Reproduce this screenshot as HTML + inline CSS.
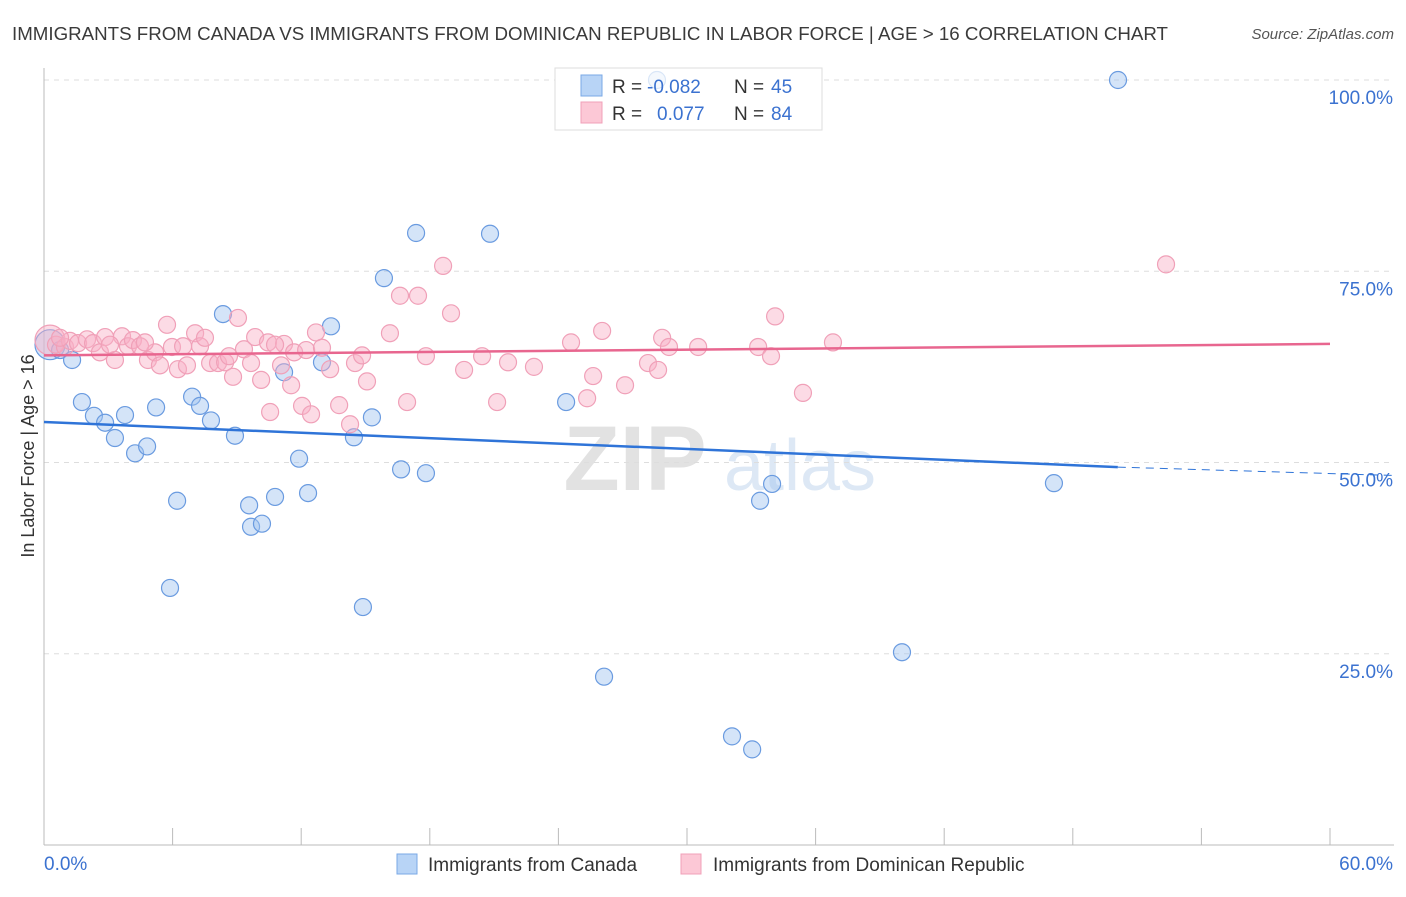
<!DOCTYPE html>
<html><head><meta charset="utf-8"><style>
body{margin:0;background:#fff;font-family:"Liberation Sans",sans-serif}
svg text{font-family:"Liberation Sans",sans-serif}
</style></head><body>
<svg id="chart" width="1406" height="892" viewBox="0 0 1406 892" xmlns="http://www.w3.org/2000/svg">
<text x="12" y="40" font-size="18.6" fill="#3a3a3a" textLength="1156" lengthAdjust="spacingAndGlyphs">IMMIGRANTS FROM CANADA VS IMMIGRANTS FROM DOMINICAN REPUBLIC IN LABOR FORCE | AGE &gt; 16 CORRELATION CHART</text>
<text x="1394" y="39" font-size="15" fill="#555" font-style="italic" text-anchor="end">Source: ZipAtlas.com</text>
<g>
<text x="635" y="490" font-size="92" font-family="Liberation Serif,serif" font-weight="bold" fill="#e2e2e2" text-anchor="middle">ZIP</text>
<text x="800" y="490" font-size="72" fill="#dde8f5" text-anchor="middle">atlas</text>
</g>
<g id="grid"></g>
<g id="axes"></g>
<g>
<rect x="555" y="68" width="267" height="62" fill="#fff" stroke="#ddd"/>
</g>
<g id="marks"></g>
<g id="trends"></g>
<g>
<rect x="555" y="68" width="267" height="62" fill="rgba(255,255,255,0.75)" stroke="#ddd"/>
<rect x="581" y="75" width="21" height="21" fill="#b8d4f6" stroke="#7aa8e6"/>
<rect x="581" y="102" width="21" height="21" fill="#fcc8d6" stroke="#f0a0b8"/>
<text x="612" y="93" font-size="19" fill="#333">R = </text><text x="647" y="93" font-size="19" fill="#3b72d0">-0.082</text>
<text x="734" y="93" font-size="19" fill="#333">N = </text><text x="771" y="93" font-size="19" fill="#3b72d0">45</text>
<text x="612" y="120" font-size="19" fill="#333">R = </text><text x="657" y="120" font-size="19" fill="#3b72d0">0.077</text>
<text x="734" y="120" font-size="19" fill="#333">N = </text><text x="771" y="120" font-size="19" fill="#3b72d0">84</text>
</g>
<g>
<rect x="397" y="854" width="20" height="20" fill="#b8d4f6" stroke="#7aa8e6"/>
<text x="428" y="871" font-size="19" fill="#333">Immigrants from Canada</text>
<rect x="681" y="854" width="20" height="20" fill="#fcc8d6" stroke="#f0a0b8"/>
<text x="713" y="871" font-size="19" fill="#333">Immigrants from Dominican Republic</text>
</g>
<text transform="translate(34,456) rotate(-90)" font-size="18" fill="#333" text-anchor="middle">In Labor Force | Age &gt; 16</text>
</svg>
<script>
const yTicks=[25,50,75,100];
const yTickLabels=["25.0%","50.0%","75.0%","100.0%"];
const xTicks=[0,6,12,18,24,30,36,42,48,54,60];
const xTickLabels=["0.0%","60.0%"];
const canadaX=[0.28,0.75,1.31,1.77,2.33,2.85,3.31,3.78,4.25,4.81,5.23,5.88,6.21,6.91,7.28,7.79,8.35,8.91,9.57,9.66,10.17,10.78,11.2,11.9,12.32,12.97,13.39,14.46,14.88,15.3,15.86,16.66,17.36,17.82,20.81,24.36,26.13,28.6,32.1,33.04,33.41,33.97,40.03,47.12,50.11];
const canadaY=[65.4,64.7,63.4,57.9,56.1,55.2,53.2,56.2,51.2,52.1,57.2,33.6,45.0,58.6,57.4,55.5,69.4,53.5,44.4,41.6,42.0,45.5,61.8,50.5,46.0,63.1,67.8,53.3,31.1,55.9,74.1,49.1,80.0,48.6,79.9,57.9,22.0,100,14.2,12.5,45.0,47.2,25.2,47.3,100];
const domX=[0.28,0.56,0.98,1.21,1.59,2.01,2.29,2.61,2.85,3.31,3.64,3.92,4.15,4.48,4.85,5.18,5.41,5.74,5.97,6.25,6.49,6.67,7.05,7.28,7.75,8.12,8.45,8.63,8.82,9.05,9.33,9.66,9.85,10.13,10.45,10.55,11.06,11.2,11.53,11.67,12.04,12.23,12.46,12.69,12.97,13.35,13.77,14.28,14.51,14.84,15.07,16.14,16.61,16.94,17.45,17.82,18.62,18.99,19.6,20.44,21.14,21.65,22.86,24.59,25.34,25.62,26.04,27.11,28.18,28.65,28.84,29.16,30.52,33.32,33.92,34.11,35.41,36.81,52.35,0.75,3.08,4.71,7.51,10.78];
const domY=[66.0,65.4,65.1,65.9,65.6,66.1,65.6,64.4,66.4,63.4,66.5,65.2,66.0,65.2,63.4,64.4,62.7,68.0,65.1,62.2,65.2,62.7,66.9,65.2,63.0,63.0,63.1,63.9,61.2,68.9,64.8,63.0,66.4,60.8,65.7,56.6,62.7,65.5,60.1,64.4,57.4,64.7,56.3,67.0,65.0,62.2,57.5,55.0,63.0,64.0,60.6,66.9,71.8,57.9,71.8,63.9,75.7,69.5,62.1,63.9,57.9,63.1,62.5,65.7,58.4,61.3,67.2,60.1,63.0,62.1,66.3,65.1,65.1,65.1,63.9,69.1,59.1,65.7,75.9,66.3,65.4,65.7,66.3,65.4];
const canadaTrendX=[0,50.1,63];
const canadaTrendY=[55.3,49.4,48.3];
const domTrendX=[0,60];
const domTrendY=[64.0,65.5];
const NS="http://www.w3.org/2000/svg";
const X=v=>44+v/60*1286;
const Y=v=>845-v/100*765;
function mk(tag,attrs,parent){const e=document.createElementNS(NS,tag);for(const k in attrs)e.setAttribute(k,attrs[k]);document.getElementById(parent).appendChild(e);return e;}
yTicks.forEach((t,i)=>{
 const g=mk('line',{x1:44,x2:1394,y1:Y(t),y2:Y(t),stroke:'#ddd','stroke-dasharray':'5,5'},'grid');
 
 
 const l=mk('text',{x:1393,y:Y(t)+24,'font-size':19,fill:'#3b72d0','text-anchor':'end'},'grid');
 l.textContent=yTickLabels[i];
 
 
});
const ax=mk('line',{x1:44,x2:1394,y1:845,y2:845,stroke:'#bbb'},'axes');


const ay=mk('line',{x1:44,x2:44,y1:68,y2:845,stroke:'#bbb'},'axes');


xTicks.forEach(t=>{
 const k=mk('line',{x1:X(t),x2:X(t),y1:828,y2:845,stroke:'#bbb'},'axes');
 
 
});
const xl0=mk('text',{x:44,y:870,'font-size':19,fill:'#3b72d0'},'axes');xl0.textContent=xTickLabels[0];


const xl1=mk('text',{x:1393,y:870,'font-size':19,fill:'#3b72d0','text-anchor':'end'},'axes');xl1.textContent=xTickLabels[1];


function pts(xs,ys,fill,stroke,name){
 xs.forEach((x,i)=>{
  const big=(i===0);
  const c=mk('circle',{cx:X(x),cy:Y(ys[i]),r:big?15:8.5,fill:fill,stroke:stroke,'stroke-width':1.2},'marks');
  
  
 });
}
pts(canadaX,canadaY,'rgba(160,196,240,0.45)','#6a9be0','canada-point');
pts(domX,domY,'rgba(248,176,198,0.45)','#f0a0b8','dominican-point');
const bt=mk('line',{x1:X(canadaTrendX[0]),y1:Y(canadaTrendY[0]),x2:X(canadaTrendX[1]),y2:Y(canadaTrendY[1]),stroke:'#2f74d8','stroke-width':2.5},'trends');


const bd=mk('line',{x1:X(canadaTrendX[1]),y1:Y(canadaTrendY[1]),x2:X(canadaTrendX[2]),y2:Y(canadaTrendY[2]),stroke:'#2f74d8','stroke-width':1,'stroke-dasharray':'8,6'},'trends');


const pt=mk('line',{x1:X(domTrendX[0]),y1:Y(domTrendY[0]),x2:X(domTrendX[1]),y2:Y(domTrendY[1]),stroke:'#e8668f','stroke-width':2.5},'trends');


</script>
</body></html>
